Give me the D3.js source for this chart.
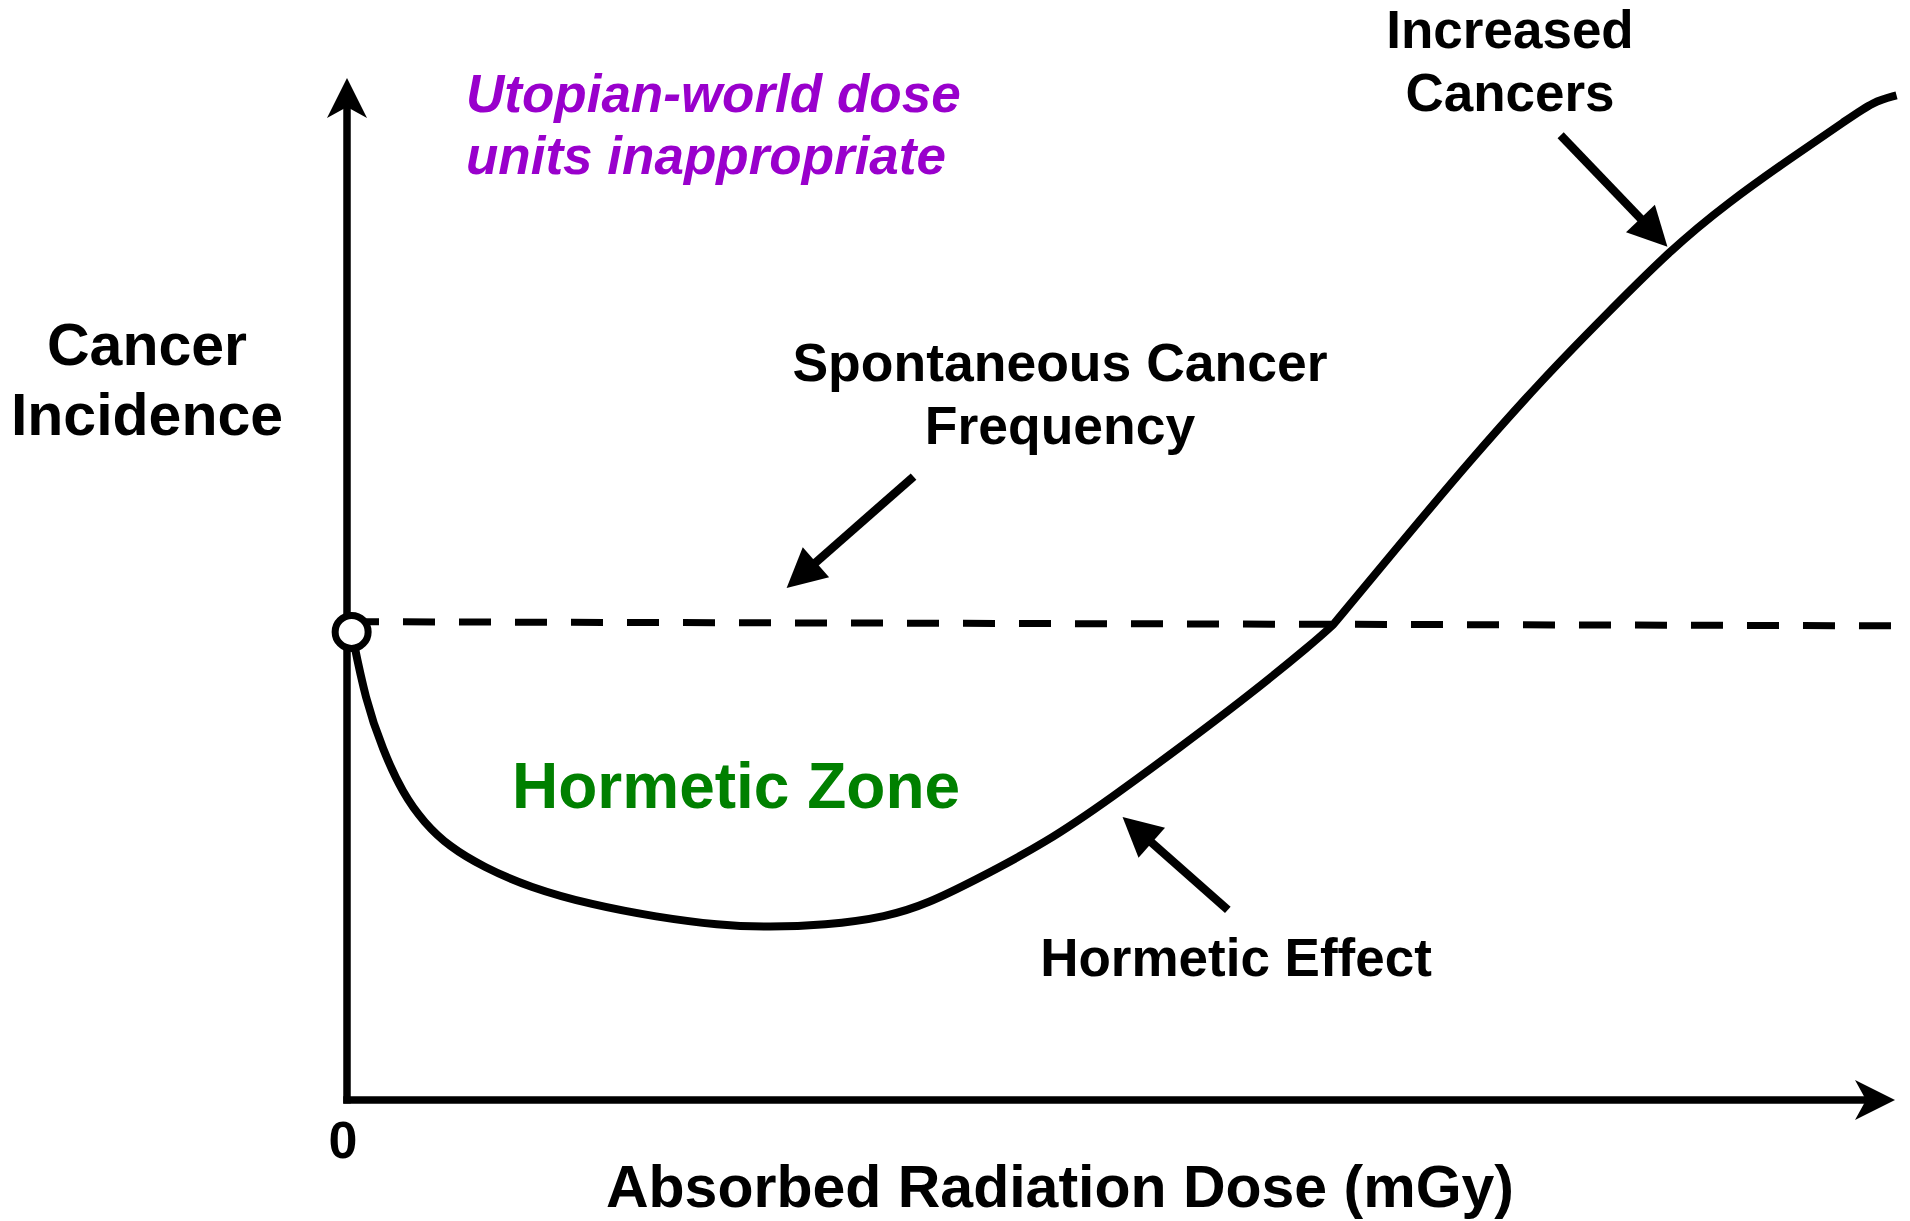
<!DOCTYPE html>
<html>
<head>
<meta charset="utf-8">
<script src="https://cdn.jsdelivr.net/npm/d3@7"></script>
<style>
  html, body { margin: 0; padding: 0; background: #ffffff; }
  svg { display: block; }
  text { font-family: "Liberation Sans", Arial, sans-serif; font-weight: bold; }
</style>
</head>
<body>
<svg id="chart" width="1910" height="1221"></svg>
<script>
// ---- data (abstract units: dose 0..100, incidence 0..100) ----
const curveLowDose = [
  [0.3, 45.8], [1.2, 39.1], [2.3, 34.3], [3.6, 30.0], [5.0, 27.1], [6.6, 24.8],
  [8.8, 22.8], [11.8, 20.8], [15.8, 19.1], [20.0, 17.9], [24.0, 17.1], [27.3, 16.9],
  [30.8, 17.1], [34.9, 17.9], [37.6, 19.3], [40.3, 21.3], [45.2, 25.2], [49.5, 29.7],
  [53.8, 34.5], [58.1, 39.4], [62.4, 44.7], [63.7, 46.5]
];
const curveHighDose = [
  [63.7, 46.5], [67.7, 53.8], [72.5, 62.5], [77.4, 70.8], [81.1, 76.5], [85.5, 83.2],
  [89.2, 87.8], [93.4, 92.3], [96.9, 95.9], [98.6, 97.7], [100.1, 98.3]
];
const spontaneousLevel = [[0, 46.8], [99.8, 46.4]];
const zeroPoint = [0.3, 45.8];
const xTickLabels = ["0"];
const annotationArrows = [
  { name: "spontaneous", from: [36.6, 61.0], to: [28.4, 50.1] },
  { name: "increased",   from: [78.4, 94.4], to: [85.3, 83.5] },
  { name: "effect",      from: [56.9, 18.6], to: [50.1, 27.7] }
];
const labelsBlack = [
  { lines: ["Cancer", "Incidence"], x: 147, y: 365, dy: 70, size: 59, anchor: "middle" },
  { lines: ["Spontaneous Cancer", "Frequency"], x: 1060, y: 381, dy: 63, size: 53.5, anchor: "middle" },
  { lines: ["Increased", "Cancers"], x: 1510, y: 48, dy: 63, size: 53, anchor: "middle" },
  { lines: ["Hormetic Effect"], x: 1236, y: 976, dy: 0, size: 53, anchor: "middle" },
  { lines: ["Absorbed Radiation Dose (mGy)"], x: 1060, y: 1207, dy: 0, size: 59, anchor: "middle" }
];

// ---- scales ----
const x = d3.scaleLinear().domain([0, 100]).range([347, 1895]);
const y = d3.scaleLinear().domain([0, 100]).range([1100, 78]);

const svg = d3.select("#chart");
const black = "#000000";

// ---- axes ----
const x0 = x(0), y0 = y(0);
const yTop = y(100), xEnd = x(100);
svg.append("line").attr("x1", x0).attr("y1", y0 + 3.5).attr("x2", x0).attr("y2", yTop + 28)
  .attr("stroke", black).attr("stroke-width", 7.5);
svg.append("path")
  .attr("d", `M${x0},${yTop} L${x0 + 20},${yTop + 40} L${x0},${yTop + 29} L${x0 - 20},${yTop + 40} Z`)
  .attr("fill", black);
svg.append("line").attr("x1", x0 - 3.75).attr("y1", y0).attr("x2", xEnd - 28).attr("y2", y0)
  .attr("stroke", black).attr("stroke-width", 7.5);
svg.append("path")
  .attr("d", `M${xEnd},${y0} L${xEnd - 40},${y0 + 20} L${xEnd - 29},${y0} L${xEnd - 40},${y0 - 20} Z`)
  .attr("fill", black);

svg.selectAll("text.xtick").data(xTickLabels).enter().append("text")
  .attr("class", "xtick")
  .attr("x", x(0) - 4).attr("y", 1158)
  .attr("text-anchor", "middle").attr("font-size", 52).attr("fill", black)
  .text(d => d);

// ---- spontaneous dashed line ----
const line = d3.line().x(d => x(d[0])).y(d => y(d[1]));
svg.append("path").datum(spontaneousLevel)
  .attr("d", line)
  .attr("fill", "none").attr("stroke", black).attr("stroke-width", 7)
  .attr("stroke-dasharray", "32,24");

// ---- dose response curve (two smooth pieces joined with a corner) ----
const p = d3.path();
let started = false;
const ctx = {
  moveTo(a, b) { if (!started) { p.moveTo(a, b); started = true; } },
  lineTo(a, b) { p.lineTo(a, b); },
  bezierCurveTo(a, b, c, d, e, f) { p.bezierCurveTo(a, b, c, d, e, f); },
  closePath() { p.closePath(); }
};
const curveGen = d3.line().x(d => x(d[0])).y(d => y(d[1])).curve(d3.curveBasis).context(ctx);
curveGen(curveLowDose);
curveGen(curveHighDose);
svg.append("path")
  .attr("d", p.toString())
  .attr("fill", "none").attr("stroke", black).attr("stroke-width", 8)
  .attr("stroke-linecap", "butt").attr("stroke-linejoin", "miter").attr("stroke-miterlimit", 10);

// zero point open circle
svg.append("circle")
  .attr("cx", x(zeroPoint[0])).attr("cy", y(zeroPoint[1])).attr("r", 16.5)
  .attr("fill", "#ffffff").attr("stroke", black).attr("stroke-width", 7);

// ---- annotation arrows ----
annotationArrows.forEach(a => {
  const fx = x(a.from[0]), fy = y(a.from[1]);
  const tx = x(a.to[0]), ty = y(a.to[1]);
  const len = Math.hypot(tx - fx, ty - fy);
  const ux = (tx - fx) / len, uy = (ty - fy) / len;
  const headL = 39, headW = 20;
  const bx = tx - ux * headL, by = ty - uy * headL;
  svg.append("line").attr("x1", fx).attr("y1", fy).attr("x2", bx + ux * 2).attr("y2", by + uy * 2)
    .attr("stroke", black).attr("stroke-width", 8.5);
  svg.append("path")
    .attr("d", `M${tx},${ty} L${bx - uy * headW},${by + ux * headW} L${bx + uy * headW},${by - ux * headW} Z`)
    .attr("fill", black);
});

// ---- text labels ----
labelsBlack.forEach(l => {
  const t = svg.append("text")
    .attr("x", l.x).attr("y", l.y)
    .attr("text-anchor", l.anchor).attr("font-size", l.size).attr("fill", black);
  l.lines.forEach((s, i) => {
    t.append("tspan").attr("x", l.x).attr("y", l.y + i * l.dy).text(s);
  });
});

const utopian = svg.append("text")
  .attr("x", 466).attr("y", 112)
  .attr("font-size", 53).attr("font-style", "italic").attr("fill", "#9900cc");
["Utopian-world dose", "units inappropriate"].forEach((s, i) => {
  utopian.append("tspan").attr("x", 466).attr("y", 112 + i * 62).text(s);
});

svg.append("text")
  .attr("x", 512).attr("y", 808)
  .attr("font-size", 64).attr("fill", "#008000")
  .text("Hormetic Zone");
</script>
</body>
</html>
